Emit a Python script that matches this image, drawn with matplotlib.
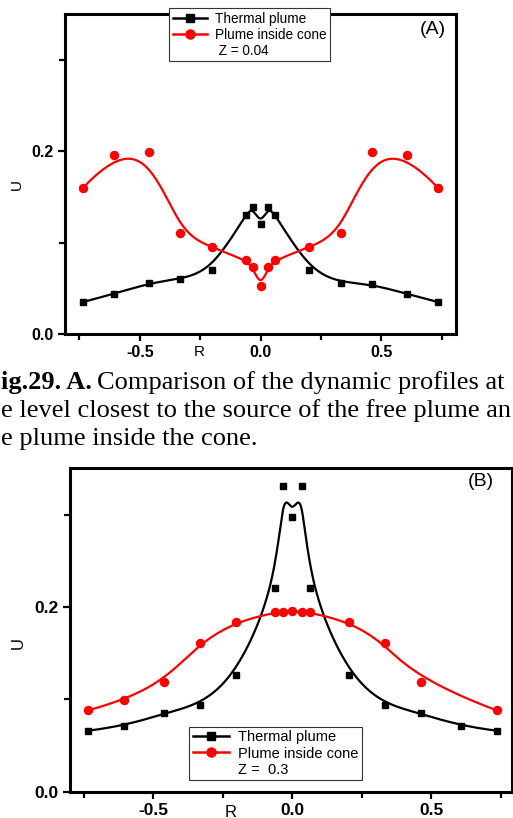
import numpy as np
import matplotlib.pyplot as plt
from matplotlib.lines import Line2D

plt.rcParams['font.family'] = ['Liberation Sans', 'DejaVu Sans']

# radial positions (same grid for both levels)
r = np.array([-0.735, -0.605, -0.462, -0.333, -0.202, -0.062, -0.033, 0.0,
              0.033, 0.062, 0.202, 0.333, 0.462, 0.605, 0.735])

# level Z = 0.04
u_free_a = np.array([0.035, 0.044, 0.056, 0.060, 0.070, 0.130, 0.139, 0.120,
                     0.139, 0.130, 0.070, 0.056, 0.055, 0.044, 0.035])
u_cone_a = np.array([0.160, 0.196, 0.199, 0.110, 0.095, 0.081, 0.073, 0.052,
                     0.073, 0.081, 0.095, 0.110, 0.199, 0.196, 0.160])

# level Z = 0.3
u_free_b = np.array([0.066, 0.071, 0.085, 0.094, 0.126, 0.220, 0.331, 0.297,
                     0.331, 0.220, 0.126, 0.094, 0.085, 0.071, 0.066])
r_cone_b = np.array([-0.735, -0.605, -0.462, -0.333, -0.202, -0.062, -0.033, 0.0,
                     0.033, 0.062, 0.202, 0.333, 0.462, 0.735])
u_cone_b = np.array([0.088, 0.099, 0.119, 0.161, 0.184, 0.194, 0.194, 0.196,
                     0.194, 0.194, 0.184, 0.161, 0.119, 0.088])

caption = ['ig.29. A.',
           'Comparison of the dynamic profiles at',
           'e level closest to the source of the free plume an',
           'e plume inside the cone.']


def bspline(xs, ys, n=600):
    # clamped cubic B-spline using the data points as control points
    pts = np.column_stack([xs, ys])
    k = 3
    m = len(pts)
    knots = np.concatenate([np.zeros(k), np.arange(m - k + 1), np.full(k, m - k)]).astype(float)
    t = np.linspace(0, m - k - 1e-9, n)
    nk = len(knots) - 1
    B = np.zeros((n, nk))
    for i in range(nk):
        B[:, i] = (knots[i] <= t) & (t < knots[i + 1])
    for d in range(1, k + 1):
        Bn = np.zeros((n, nk - d))
        for i in range(nk - d):
            den1 = knots[i + d] - knots[i]
            den2 = knots[i + d + 1] - knots[i + 1]
            if den1 > 0:
                Bn[:, i] += (t - knots[i]) / den1 * B[:, i]
            if den2 > 0:
                Bn[:, i] += (knots[i + d + 1] - t) / den2 * B[:, i + 1]
        B = Bn
    c = B @ pts
    return c[:, 0], c[:, 1]


def style_axes(ax, fs):
    for s in ax.spines.values():
        s.set_linewidth(2.2)
    ax.set_ylim(0, 0.35)
    ax.set_yticks([0.0, 0.2])
    ax.set_yticklabels(['0.0', '0.2'])
    ax.set_yticks([0.1, 0.3], minor=True)
    ax.set_xticks([-0.5, 0.0, 0.5])
    ax.set_xticklabels(['-0.5', '0.0', '0.5'])
    ax.set_xticks([-0.75, -0.25, 0.25, 0.75], minor=True)
    ax.tick_params(which='both', direction='out', width=1.6, top=False, right=False)
    ax.tick_params(which='major', length=5, pad=3, labelsize=fs)
    ax.tick_params(which='minor', length=4)
    for lab in ax.get_xticklabels() + ax.get_yticklabels():
        lab.set_fontweight('bold')


def draw(ax, xf, yf, xc, yc):
    sx, sy = bspline(xf, yf)
    ax.plot(sx, sy, color='black', lw=1.6, zorder=3)
    ax.plot(xf, yf, 's', color='black', ms=4.8, zorder=4)
    sx, sy = bspline(xc, yc)
    ax.plot(sx, sy, color='red', lw=1.6, zorder=3)
    ax.plot(xc, yc, 'o', color='red', ms=5.8, zorder=4)


def legend_handles(z_text):
    h = [Line2D([], [], color='black', lw=1.8, marker='s', ms=5.5),
         Line2D([], [], color='red', lw=1.8, marker='o', ms=6.5),
         Line2D([], [], color='none')]
    labels = ['Thermal plume', 'Plume inside cone', z_text]
    return h, labels


fig = plt.figure(figsize=(5.13, 8.18), dpi=100)

# panel A
ax1 = fig.add_axes([65 / 513, 1 - 334 / 818, 391 / 513, 320 / 818])
draw(ax1, r, u_free_a, r, u_cone_a)
ax1.set_xlim(-0.81, 0.81)
style_axes(ax1, 11.5)
ax1.set_xlabel('R', fontsize=11)
ax1.xaxis.set_label_coords(0.343, -0.033)
ax1.xaxis.label.set_va('top')
ax1.set_ylabel('U', fontsize=11)
ax1.yaxis.set_label_coords(-0.123, 0.466)
ax1.yaxis.label.set_va('center')
ax1.text(0.94, 0.95, '(A)', transform=ax1.transAxes, fontsize=14, ha='center', va='center')
h, l = legend_handles(' Z = 0.04')
fig.legend(h, l, loc='upper left', bbox_to_anchor=(169 / 513, 1 - 8 / 818),
           fontsize=9.8, frameon=True, fancybox=False, edgecolor='#333333',
           framealpha=1, borderaxespad=0, handlelength=2.5, handletextpad=0.6,
           labelspacing=0.14, borderpad=0.28).get_frame().set_linewidth(0.8)

# caption between the panels
serif = ['Liberation Serif', 'DejaVu Serif']
fig.text(1 / 513, 1 - 389 / 818, caption[0], family=serif, fontsize=19,
         fontweight='bold', ha='left', va='baseline')
fig.text(97 / 513, 1 - 389 / 818, caption[1],
         family=serif, fontsize=19, ha='left', va='baseline')
fig.text(1 / 513, 1 - 417 / 818, caption[2],
         family=serif, fontsize=19, ha='left', va='baseline')
fig.text(1 / 513, 1 - 445 / 818, caption[3],
         family=serif, fontsize=19, ha='left', va='baseline')

# panel B
ax2 = fig.add_axes([70 / 513, 1 - 791.7 / 818, 442 / 513, 323.4 / 818])
draw(ax2, r, u_free_b, r_cone_b, u_cone_b)
ax2.set_xlim(-0.80, 0.79)
style_axes(ax2, 12.5)
ax2.set_xlabel('R', fontsize=12)
ax2.xaxis.set_label_coords(0.364, -0.040)
ax2.xaxis.label.set_va('top')
ax2.set_ylabel('U', fontsize=12)
ax2.yaxis.set_label_coords(-0.116, 0.461)
ax2.yaxis.label.set_va('center')
ax2.text(0.93, 0.96, '(B)', transform=ax2.transAxes, fontsize=14, ha='center', va='center')
h, l = legend_handles('Z =  0.3')
ax2.legend(h, l, loc='upper left', bbox_to_anchor=(189 / 513, 1 - 726.7 / 818),
           bbox_transform=fig.transFigure, fontsize=10.5, frameon=True, fancybox=False,
           edgecolor='#333333', framealpha=1, borderaxespad=0, handlelength=2.5,
           handletextpad=0.6, labelspacing=0.15, borderpad=0.25).get_frame().set_linewidth(0.8)

fig.savefig('out.png', dpi=100)
